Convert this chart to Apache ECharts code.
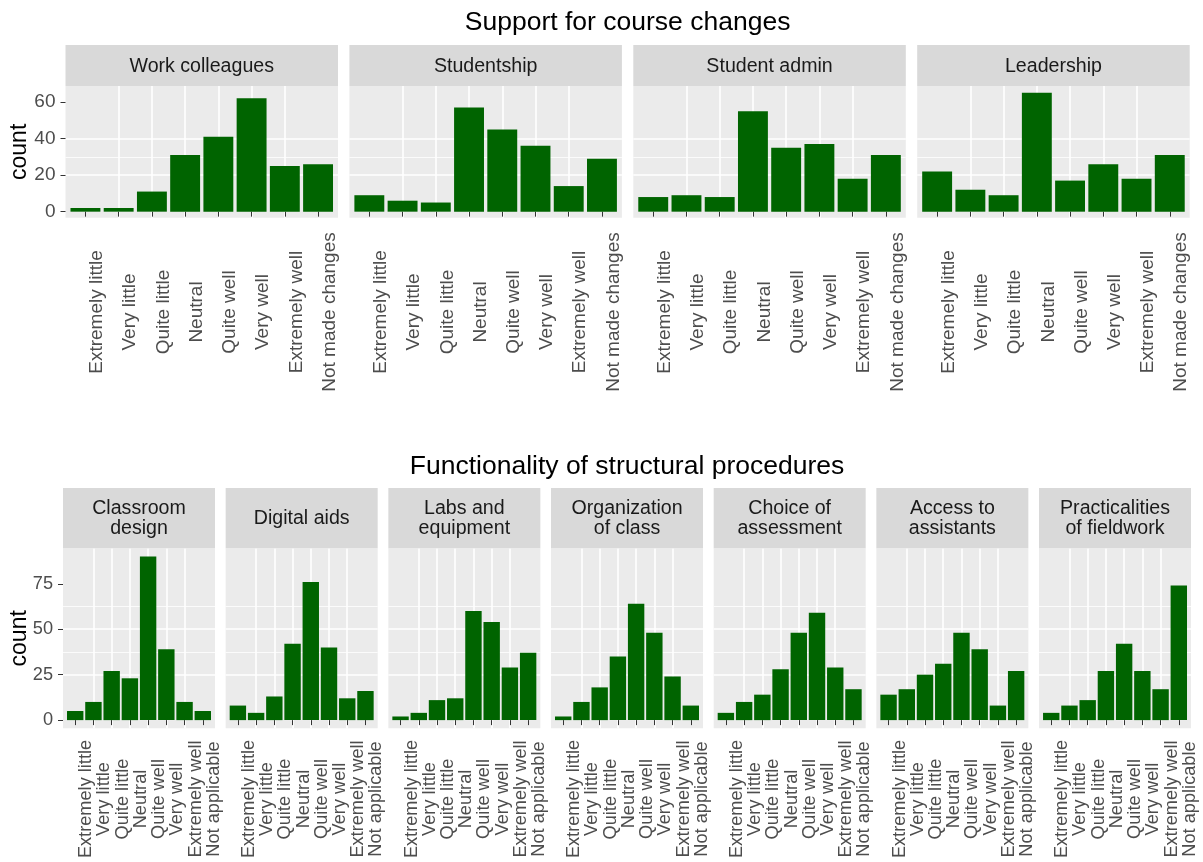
<!DOCTYPE html>
<html><head><meta charset="utf-8">
<script src="https://cdn.jsdelivr.net/npm/echarts@6/dist/echarts.min.js"></script>
<style>html,body{margin:0;padding:0;background:#fff}#c{width:1203px;height:862px}</style>
</head><body><div id="c"></div>
<script>
// ---------- DATA ----------
const topTitle = 'Support for course changes';
const bottomTitle = 'Functionality of structural procedures';
const yTitle = 'count';
const topCategories = ['Extremely little','Very little','Quite little','Neutral','Quite well','Very well','Extremely well','Not made changes'];
const bottomCategories = ['Extremely little','Very little','Quite little','Neutral','Quite well','Very well','Extremely well','Not applicable'];
const topPanels = ['Work colleagues','Studentship','Student admin','Leadership'];
const workColleagues = [2, 2, 11, 31, 41, 62, 25, 26];
const studentship    = [9, 6, 5, 57, 45, 36, 14, 29];
const studentAdmin   = [8, 9, 8, 55, 35, 37, 18, 31];
const leadership     = [22, 12, 9, 65, 17, 26, 18, 31];
const bottomPanels = ['Classroom\ndesign','Digital aids','Labs and\nequipment','Organization\nof class','Choice of\nassessment','Access to\nassistants','Practicalities\nof fieldwork'];
const classroomDesign   = [5, 10, 27, 23, 90, 39, 10, 5];
const digitalAids       = [8, 4, 13, 42, 76, 40, 12, 16];
const labsEquipment     = [2, 4, 11, 12, 60, 54, 29, 37];
const organizationClass = [2, 10, 18, 35, 64, 48, 24, 8];
const choiceAssessment  = [4, 10, 14, 28, 48, 59, 29, 17];
const accessAssistants  = [14, 17, 25, 31, 48, 39, 8, 27];
const practicalities    = [4, 8, 11, 27, 42, 27, 17, 74];
const topTicks = [0, 20, 40, 60];
const topMinorTicks = [10, 30, 50];
const bottomTicks = [0, 25, 50, 75];
const bottomMinorTicks = [12.5, 37.5, 62.5, 87.5];

// ---------- LAYOUT ----------
const FONT = "'Liberation Sans', Arial, Helvetica, sans-serif";
const rows = [
  { panels: topPanels, values: [workColleagues, studentship, studentAdmin, leadership], cats: topCategories,
    left0: 65.5, step: 283.9, width: 272.5, top: 86, height: 131.7, stripTop: 45, stripH: 41, expand: 0.6,
    yMin: -3.3, yMax: 68.75, ticks: topTicks, minor: topMinorTicks, labelMargin: 94.3, axisFont: 19,
    title: topTitle, titleY: 22.5, stripTextY: 67 },
  { panels: bottomPanels, values: [classroomDesign, digitalAids, labsEquipment, organizationClass, choiceAssessment, accessAssistants, practicalities], cats: bottomCategories,
    left0: 63, step: 162.67, width: 152, top: 548.3, height: 180, stripTop: 488, stripH: 60.3, expand: 0.67,
    yMin: -4.5, yMax: 94.5, ticks: bottomTicks, minor: bottomMinorTicks, labelMargin: 70.7, axisFont: 18.2,
    title: bottomTitle, titleY: 467, stripTextY: 518.7 }
];

const grid = [], xAxis = [], yAxis = [], series = [], graphic = [];
rows.forEach((r) => {
  const n = r.cats.length;
  const unit = r.width / (n - 1 + 2 * r.expand);
  const catPos = r.cats.map((_, i) => i + 1);
  graphic.push({ type: 'text', x: r.left0 + (r.step * (r.panels.length - 1) + r.width) / 2, y: r.titleY, z: 10,
    style: { text: r.title, font: '26.5px ' + FONT, fill: '#000', align: 'center', verticalAlign: 'middle' } });
  graphic.push({ type: 'text', x: 20, y: r.top + r.height / 2, rotation: Math.PI / 2, z: 10,
    style: { text: yTitle, font: '23px ' + FONT, fill: '#000', align: 'center', verticalAlign: 'middle' } });
  r.panels.forEach((name, c) => {
    const left = r.left0 + c * r.step;
    const first = c === 0;
    // outer panel grid: background, grid lines, ticks and labels
    const go = grid.length;
    grid.push({ left: left, top: r.top, width: r.width, height: r.height, show: true, backgroundColor: '#EBEBEB',
      borderWidth: 0, containLabel: false, outerBoundsMode: 'none', z: -1 });
    xAxis.push({ type: 'value', gridIndex: go, min: 1 - r.expand, max: n + r.expand, z: 1,
      axisLine: { show: false },
      axisTick: { show: true, customValues: catPos, length: 5, lineStyle: { color: '#333333', width: 1 } },
      axisLabel: { customValues: catPos, formatter: (v) => r.cats[Math.round(v) - 1] || '',
        rotate: 90, align: 'center', verticalAlign: 'top', margin: r.labelMargin, padding: [2, 0, 0, 0],
        color: '#4D4D4D', fontSize: r.axisFont, fontFamily: FONT, hideOverlap: false },
      splitLine: { show: true, showMinLine: false, showMaxLine: false, lineStyle: { color: '#FFFFFF', width: 1.6 } } });
    yAxis.push({ type: 'value', gridIndex: go, min: r.yMin, max: r.yMax, z: 1,
      axisLine: { show: false },
      axisTick: { show: first, customValues: r.ticks, length: 5, lineStyle: { color: '#333333', width: 1 } },
      axisLabel: { show: first, customValues: r.ticks, margin: 10, color: '#4D4D4D', fontSize: r.axisFont, fontFamily: FONT },
      splitLine: { show: true, showMinLine: false, showMaxLine: false, lineStyle: { color: '#FFFFFF', width: 1.6 } } });
    yAxis.push({ type: 'value', gridIndex: go, min: r.yMin, max: r.yMax, position: 'left', z: 1,
      axisLine: { show: false },
      axisTick: { show: false, customValues: r.minor },
      axisLabel: { show: false },
      splitLine: { show: true, showMinLine: false, showMaxLine: false, lineStyle: { color: '#FFFFFF', width: 0.8 } } });
    // inner grid spanning only the category bands: bars
    const gInner = grid.length;
    grid.push({ left: left + (r.expand - 0.5) * unit, top: r.top, width: n * unit, height: r.height, show: false,
      containLabel: false, outerBoundsMode: 'none' });
    xAxis.push({ type: 'category', gridIndex: gInner, data: r.cats, show: false,
      axisLine: { show: false }, axisTick: { show: false }, axisLabel: { show: false }, splitLine: { show: false } });
    yAxis.push({ type: 'value', gridIndex: gInner, min: r.yMin, max: r.yMax, show: false,
      axisLine: { show: false }, axisTick: { show: false }, axisLabel: { show: false }, splitLine: { show: false } });
    series.push({ type: 'bar', xAxisIndex: xAxis.length - 1, yAxisIndex: yAxis.length - 1, data: r.values[c],
      barCategoryGap: '10%', itemStyle: { color: '#006400' }, z: 2, silent: true });
    // facet strip
    graphic.push({ type: 'rect', shape: { x: left, y: r.stripTop, width: r.width, height: r.stripH }, z: 5,
      style: { fill: '#D9D9D9' } });
    graphic.push({ type: 'text', x: left + r.width / 2, y: r.stripTextY, z: 6,
      style: { text: name, font: '19.6px ' + FONT, fill: '#1A1A1A', align: 'center', verticalAlign: 'middle', lineHeight: 20 } });
  });
});

const chart = echarts.init(document.getElementById('c'), null, { renderer: 'canvas' });
chart.setOption({ animation: false, backgroundColor: '#FFFFFF', grid, xAxis, yAxis, series, graphic });
</script></body></html>
